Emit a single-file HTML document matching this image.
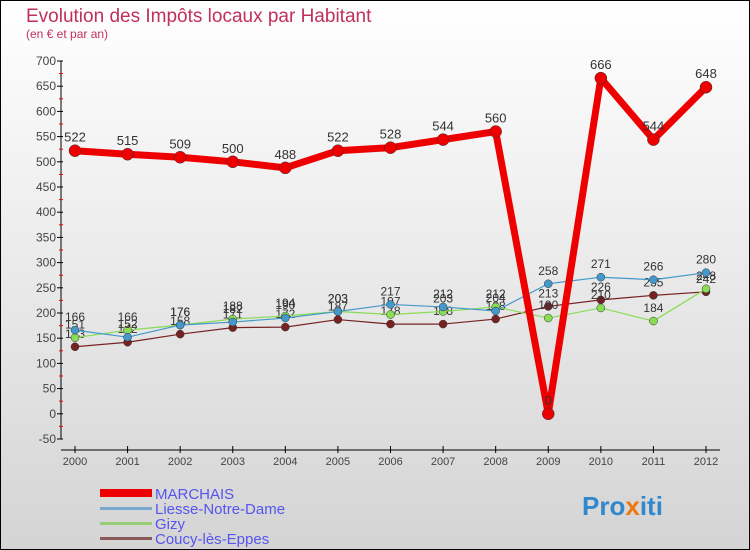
<!DOCTYPE html>
<html><head><meta charset="utf-8"><style>
body{margin:0}
svg{display:block;font-family:"Liberation Sans",sans-serif}
</style></head><body>
<svg id="chart" width="750" height="550">
<defs><linearGradient id="bg" x1="0" y1="0" x2="0" y2="1"><stop offset="0" stop-color="#ffffff"/><stop offset="1" stop-color="#d4d4d4"/></linearGradient></defs>
<rect x="0.5" y="0.5" width="749" height="549" fill="url(#bg)" stroke="#000"/>
<text x="26" y="22" font-size="19" fill="#c0305a">Evolution des Impôts locaux par Habitant</text>
<text x="26" y="38" font-size="12" fill="#c0305a">(en € et par an)</text>
<g id="axes"></g>
<g id="series"></g>
<g id="legend">
<rect x="100" y="489" width="52" height="8" fill="#ee0000"/>
<text x="155" y="499" font-size="15" fill="#5555ee">MARCHAIS</text>
<rect x="100" y="507" width="52" height="3" fill="#7aa8cc"/>
<text x="155" y="514" font-size="15" fill="#5555ee">Liesse-Notre-Dame</text>
<rect x="100" y="522" width="52" height="3" fill="#99cc77"/>
<text x="155" y="529" font-size="15" fill="#5555ee">Gizy</text>
<rect x="100" y="537" width="52" height="3" fill="#8a5a5a"/>
<text x="155" y="544" font-size="15" fill="#5555ee">Coucy-lès-Eppes</text>
</g>
<text x="582" y="515" font-size="26" font-weight="bold" fill="#3388cc">Pro<tspan fill="#ee7711">x</tspan>iti</text>
</svg>
<script>
const years=[2000,2001,2002,2003,2004,2005,2006,2007,2008,2009,2010,2011,2012];
const marchais=[522,515,509,500,488,522,528,544,560,0,666,544,648];
const liesse=[166,152,176,182,190,203,217,212,204,258,271,266,280];
const gizy=[151,166,176,188,194,203,197,203,212,190,210,184,248];
const coucy=[133,142,158,171,172,187,178,178,188,213,226,235,242];
const yTicks=[-50,0,50,100,150,200,250,300,350,400,450,500,550,600,650,700];
const NS="http://www.w3.org/2000/svg";
const X=i=>75+i*(706-75)/12;
const Y=v=>413.8-v*0.504;
function mk(tag,attrs,parent,txt){const e=document.createElementNS(NS,tag);for(const k in attrs)e.setAttribute(k,attrs[k]);if(txt!==undefined)e.textContent=txt;parent.appendChild(e);return e;}
const ax=document.getElementById('axes');
let e=mk('line',{x1:61,y1:Y(700),x2:61,y2:Y(-50),stroke:'#000'},ax);


e=mk('line',{x1:61,y1:450,x2:720,y2:450,stroke:'#000'},ax);


yTicks.forEach(t=>{
  mk('line',{x1:57,y1:Y(t),x2:63,y2:Y(t),stroke:'#000'},ax);
  if(t<700)mk('line',{x1:59,y1:Y(t+25),x2:63,y2:Y(t+25),stroke:'#e00'},ax);
  const l=mk('text',{x:56,y:Y(t)+4,'font-size':12,'text-anchor':'end',fill:'#444'},ax,String(t));
  
  
});
years.forEach((yr,i)=>{
  mk('line',{x1:X(i),y1:446,x2:X(i),y2:453,stroke:'#000'},ax);
  const l=mk('text',{x:X(i),y:465,'font-size':11,'text-anchor':'middle',fill:'#444'},ax,String(yr));
  
  
});
const sg=document.getElementById('series');
function series(vals,color,w,r,name,fs){
  const g=mk('g',{},sg);
  
  
  const p=mk('polyline',{points:vals.map((v,i)=>X(i)+','+Y(v)).join(' '),fill:'none',stroke:color,'stroke-width':w,'stroke-linejoin':'round'},g);
  
  
  vals.forEach((v,i)=>{
    const c=mk('circle',{cx:X(i),cy:Y(v),r:r,fill:color,stroke:'#333','stroke-width':0.5},g);
    
    
    const t=mk('text',{x:X(i),y:Y(v)-9,'font-size':fs,'text-anchor':'middle',fill:'#333'},g,String(v));
    
    
  });
}
series(coucy,'#772222',1.2,4,'coucy',12);
series(gizy,'#88dd55',1.2,4,'gizy',12);
series(liesse,'#4499cc',1.2,4,'liesse',12);
series(marchais,'#ee0000',7,6,'marchais',13);
</script>
</body></html>
